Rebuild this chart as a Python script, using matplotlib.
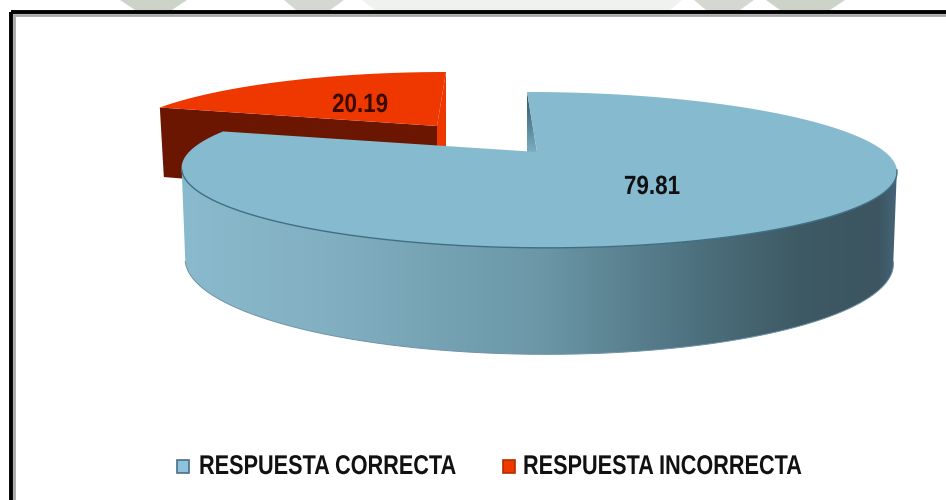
#!/usr/bin/env python3
"""3D looking pie chart of correct / incorrect answers."""

import numpy as np
import matplotlib
matplotlib.use("Agg")
import matplotlib.pyplot as plt
from matplotlib.colors import LinearSegmentedColormap
from matplotlib.patches import Polygon, Rectangle
from matplotlib.patheffects import AbstractPathEffect
from matplotlib.transforms import Affine2D

categories = ["RESPUESTA CORRECTA", "RESPUESTA INCORRECTA"]
values = [79.81, 20.19]
value_labels = ["79.81", "20.19"]

W, H = 946, 500
KEEP = 0.23  # perspective strength
FONT = ["Liberation Sans", "DejaVu Sans"]

BLUE_TOP = "#86bacf"
RED_TOP = "#ef3800"
RED_DARK = "#6b1600"


class Squeeze(AbstractPathEffect):
    """Narrow the glyphs around x0 (pixels), there is no condensed font here."""

    def __init__(self, x0, sx):
        super().__init__()
        self.x0 = x0
        self.sx = sx

    def draw_path(self, renderer, gc, tpath, affine, rgbFace=None):
        squeeze = Affine2D().translate(-self.x0, 0).scale(self.sx, 1).translate(self.x0, 0)
        renderer.draw_path(gc, tpath, affine + squeeze, rgbFace)


def project(phi, apex, scale=1.0, skew=-10.0, depth=0.0, shrink=1.0):
    """phi is clockwise from 12 o'clock, result is in pixels of the picture."""
    x = np.sin(phi)
    y = np.cos(phi)
    w = 1 + KEEP * y
    px = apex[0] + shrink * scale * 348 * x / w + skew * y
    py = apex[1] - scale * 73.8 * y / w + depth / w ** 0.73
    return np.column_stack([px, py])


def gradient(ax, patch, stops, box, vertical=False, zorder=1):
    ax.add_patch(patch)
    patch.set_visible(False)
    cmap = LinearSegmentedColormap.from_list("g", stops)
    ramp = np.linspace(0, 1, 256)
    ramp = ramp[:, None] if vertical else ramp[None, :]
    im = ax.imshow(ramp, cmap=cmap, extent=box, aspect="auto", zorder=zorder,
                   interpolation="bilinear", vmin=0, vmax=1)
    im.set_clip_path(patch.get_path(), patch.get_transform())


fig = plt.figure(figsize=(W / 100, H / 100), dpi=100)
ax = fig.add_axes([0, 0, 1, 1])

fractions = np.array(values) / sum(values)
big_sweep = 2 * np.pi * fractions[0]
red_sweep = 2 * np.pi * fractions[1]

# washed out logo behind the top of the frame
for xs, col in [((120, 187, 172, 135), "#ccd3c9"), ((284, 344, 330, 296), "#d3d9d0"),
                ((362, 682, 670, 375), "#f0f2ef"), ((694, 754, 740, 706), "#d3d9d0"),
                ((766, 845, 830, 780), "#ccd3c9")]:
    ax.add_patch(Polygon(list(zip(xs, (0, 0, 10, 10))), fc=col, ec="none", zorder=0))

# frame, only left and top are in the picture
ax.add_patch(Rectangle((14, 15), W, H, fc="white", ec="#a8a8a8", lw=2, zorder=1))
ax.add_patch(Rectangle((11, 12), W, H, fc="none", ec="black", lw=2.8, zorder=2))

# red slice, pulled out
red_apex = (437, 126)
red_kw = dict(scale=0.9, skew=9)
red_depth = 73
phi = np.linspace(-red_sweep, 0, 100)
ax.add_patch(Polygon(np.vstack([project(phi[:1], red_apex, **red_kw),
                                project(phi[:1], red_apex, depth=red_depth, **red_kw) + [4, 0],
                                [[red_apex[0], red_apex[1] + red_depth]],
                                [red_apex]]),
                     fc=RED_DARK, ec="none", zorder=3))
ax.add_patch(Polygon(np.vstack([project(phi[-1:], red_apex, **red_kw),
                                project(phi[-1:], red_apex, depth=86, **red_kw),
                                [[red_apex[0], red_apex[1] + red_depth]],
                                [red_apex]]),
                     fc=RED_TOP, ec="none", zorder=3))
ax.add_patch(Polygon(np.vstack([project(phi, red_apex, **red_kw), [red_apex]]),
                     fc=RED_TOP, ec="none", zorder=4))

# big slice
apex = (537, 152)
depth = 88
phi = np.linspace(0, big_sweep, 400)

# cut wall seen through the gap
start = np.array([0.0])
notch = np.vstack([project(start, apex), project(start, apex, depth=depth),
                   [[apex[0], apex[1] + depth]], [apex]])
gradient(ax, Polygon(notch, transform=ax.transData),
         ["#2c5262", "#86bacf"], (520, 545, 160, 92), vertical=True, zorder=5)

# outer wall, lit from the left
side = np.arccos(-KEEP)
front = np.linspace(side, 2 * np.pi - side, 300)
wall = np.vstack([project(front, apex),
                  project(front[::-1], apex, depth=depth, shrink=0.99)])
gradient(ax, Polygon(wall, transform=ax.transData),
         [(0, "#8abacd"), (0.2, "#82b0c2"), (0.5, "#6b97a7"), (0.72, "#4d707e"),
          (0.86, "#3e5a65"), (0.97, "#3c5560"), (1, "#46667a")],
         (181, 899, 360, 160), zorder=6)
ax.add_line(plt.Line2D(*project(front, apex, depth=depth, shrink=0.99).T,
                       color="#6f94a6", lw=0.7, zorder=7))

ax.add_patch(Polygon(np.vstack([project(phi, apex), [apex]]), fc=BLUE_TOP,
                     ec="none", zorder=8))
ax.add_line(plt.Line2D(*project(front, apex).T, color="#3f6f85", lw=1.0, zorder=9))

# value labels
for x, y, label, col in [(652, 187, value_labels[0], "#111111"),
                         (360, 105, value_labels[1], "#3a0a00")]:
    t = ax.text(x, y, label, ha="center", va="center", family=FONT, weight="bold",
                fontsize=19, color=col, zorder=10)
    t.set_path_effects([Squeeze(x, 0.85)])

# legend
for swatch_x, text_x, name, col in [(177, 199, categories[0], "#8ec3de"),
                                    (503, 523, categories[1], RED_TOP)]:
    ax.add_patch(Rectangle((swatch_x, 460), 12, 13, fc=col,
                           ec="#4d6f85" if col != RED_TOP else "#b03000", lw=1.2, zorder=10))
    t = ax.text(text_x, 467, name, ha="left", va="center", family=FONT, weight="bold",
                fontsize=19.5, color="#111111", zorder=10)
    t.set_path_effects([Squeeze(text_x, 0.80)])

ax.set_xlim(0, W)
ax.set_ylim(H, 0)
ax.axis("off")
fig.savefig("out.png", dpi=100)
